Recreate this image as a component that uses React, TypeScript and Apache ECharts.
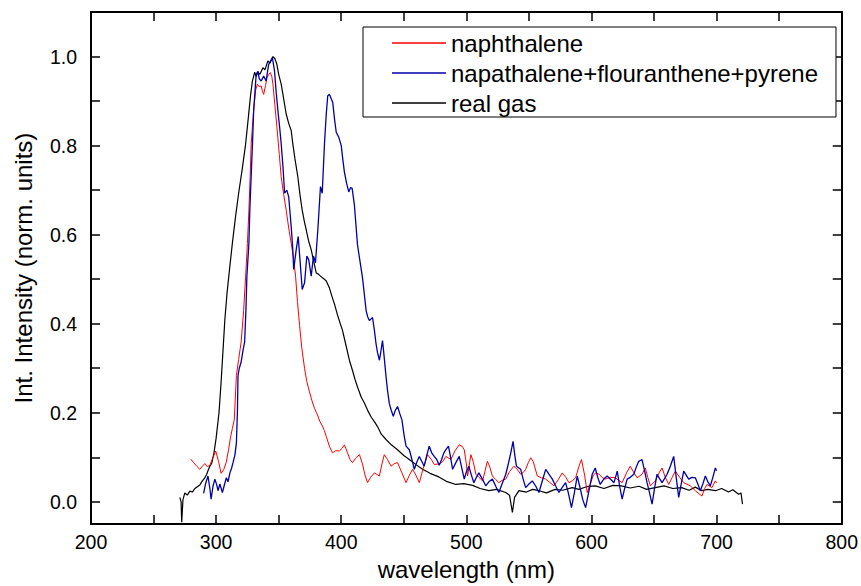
import React, { useEffect, useRef } from "react";
import * as echarts from "echarts";

const seriesNames = ["naphthalene", "napathalene+flouranthene+pyrene", "real gas"];
const seriesColors = ["#ff0000", "#0000a8", "#000000"];
const seriesWidths = [1, 1.3, 1.2];

const xLabelValues = [200, 300, 400, 500, 600, 700, 800];
const xTickValues = [200, 250, 300, 350, 400, 450, 500, 550, 600, 650, 700, 750, 800];
const yLabelValues = [0, 0.2, 0.4, 0.6, 0.8, 1.0];
const yTickValues = [0, 0.1, 0.2, 0.3, 0.4, 0.5, 0.6, 0.7, 0.8, 0.9, 1.0];

const naphthalene: number[][] = [
  [279.7, 0.096], [282, 0.088], [284.5, 0.080], [287, 0.073], [289, 0.080], [291, 0.086], [293, 0.079], [295, 0.082],
  [297.5, 0.100], [299.7, 0.114], [302, 0.090], [304, 0.064], [306, 0.072], [308, 0.088], [310, 0.118], [311.4, 0.143],
  [313, 0.165], [314.5, 0.184], [316.2, 0.284], [318, 0.320], [320, 0.359], [322, 0.430], [323.6, 0.507], [325, 0.580],
  [326.2, 0.655], [327.2, 0.730], [328, 0.804], [330, 0.880], [331.6, 0.925], [333, 0.938], [334.5, 0.932], [336, 0.934],
  [337, 0.922], [338, 0.915], [339.5, 0.935], [340.6, 0.952], [342, 0.960], [343.3, 0.964], [344.5, 0.955], [345.4, 0.938],
  [347, 0.890], [348.6, 0.841], [350.5, 0.780], [352, 0.730], [354, 0.690], [356, 0.655], [358, 0.615], [360, 0.581],
  [362, 0.545], [363.5, 0.507], [365, 0.450], [366.7, 0.396], [368.5, 0.345], [370.7, 0.299], [372.5, 0.270], [374.6, 0.247],
  [376.5, 0.228], [378.6, 0.210], [381, 0.195], [383, 0.180], [385, 0.170], [386.5, 0.160], [388, 0.147], [390.5, 0.125],
  [393, 0.110], [395.5, 0.115], [398.6, 0.114], [400.5, 0.120], [402.6, 0.128], [405, 0.110], [407, 0.095], [409, 0.088],
  [411.5, 0.098], [414.5, 0.106], [417, 0.085], [419, 0.060], [421, 0.043], [423.5, 0.055], [426.5, 0.065], [430.5, 0.058],
  [432.5, 0.085], [434.4, 0.106], [437, 0.095], [439.8, 0.080], [442.5, 0.086], [445, 0.088], [448.5, 0.065], [451.8, 0.043],
  [454.5, 0.060], [457, 0.073], [460, 0.058], [462.4, 0.043], [465.5, 0.075], [469, 0.106], [472, 0.095], [474.3, 0.084],
  [478.3, 0.085], [481, 0.090], [483.6, 0.102], [487.6, 0.095], [491, 0.115], [494.3, 0.128], [496.5, 0.125], [498.3, 0.117],
  [500, 0.085], [501, 0.058], [503.6, 0.106], [505.5, 0.090], [507.6, 0.062], [510, 0.055], [513, 0.047], [515, 0.070],
  [516.8, 0.091], [518.5, 0.080], [520.8, 0.058], [523.5, 0.050], [526, 0.043], [528.5, 0.048], [531.5, 0.051], [534.5, 0.068],
  [538, 0.080], [541, 0.072], [543.4, 0.062], [545.5, 0.066], [547.4, 0.073], [549.5, 0.088], [551.4, 0.099], [553.5, 0.090],
  [556.7, 0.058], [560, 0.054], [563.4, 0.051], [566.5, 0.044], [570, 0.036], [573.5, 0.050], [576.6, 0.065], [579.5, 0.055],
  [582, 0.043], [585, 0.048], [587.3, 0.054], [590, 0.080], [592, 0.095], [594.5, 0.060], [596.6, 0.021], [599, 0.040],
  [601.5, 0.060], [603.5, 0.065], [606, 0.062], [608.5, 0.055], [611, 0.051], [615, 0.055], [619, 0.054], [622, 0.048],
  [624.5, 0.043], [628, 0.065], [631, 0.080], [634, 0.065], [636.5, 0.054], [640.4, 0.062], [643, 0.076], [645, 0.055],
  [647, 0.036], [651, 0.047], [654, 0.065], [656.4, 0.076], [659, 0.055], [661.7, 0.039], [664.5, 0.055], [667, 0.069],
  [670.5, 0.055], [673.7, 0.043], [679, 0.036], [683, 0.025], [686, 0.018], [688.3, 0.013], [690.5, 0.030], [692.3, 0.039],
  [696.3, 0.032], [699, 0.047], [700, 0.042],
];

const mixture: number[][] = [
  [290, 0.019], [291.5, 0.040], [293.5, 0.058], [295, 0.030], [296, 0.006], [297.5, 0.035], [299, 0.051], [300.5, 0.038],
  [301.5, 0.025], [303, 0.040], [305, 0.021], [306.8, 0.040], [308.2, 0.054], [309.5, 0.045], [311, 0.065], [312.3, 0.075],
  [313.5, 0.088], [315, 0.105], [316.2, 0.132], [317, 0.200], [317.5, 0.284], [318.5, 0.300], [320, 0.314], [321.5, 0.340],
  [322.8, 0.359], [323.8, 0.430], [324.6, 0.507], [326.2, 0.581], [327, 0.660], [328, 0.730], [329, 0.800], [330, 0.878],
  [332, 0.960], [333.4, 0.967], [334.5, 0.950], [336, 0.945], [338, 0.956], [340, 0.945], [341, 0.965], [342, 0.982],
  [343.5, 0.990], [345, 0.997], [346.7, 0.967], [348, 0.920], [349.4, 0.878], [350.8, 0.840], [352, 0.804], [353.5, 0.750],
  [354.7, 0.693], [356.5, 0.700], [358, 0.685], [360, 0.618], [361.2, 0.570], [362, 0.522], [364, 0.566], [365.6, 0.596],
  [367.2, 0.537], [368.8, 0.477], [370.7, 0.492], [372.5, 0.552], [374, 0.544], [376, 0.507], [377.8, 0.552], [379.4, 0.537],
  [381.3, 0.611], [383.4, 0.708], [384.8, 0.693], [386.6, 0.804], [388, 0.870], [389.2, 0.912], [390.6, 0.915], [392, 0.905],
  [393.2, 0.897], [394.6, 0.860], [396, 0.830], [398, 0.819], [400, 0.800], [401.2, 0.770], [402.5, 0.741], [404.3, 0.715],
  [406, 0.696], [407.5, 0.706], [408.7, 0.704], [410.5, 0.667], [411.8, 0.620], [413, 0.577], [415, 0.540], [417, 0.503],
  [418.5, 0.465], [419.9, 0.429], [421.2, 0.415], [422.5, 0.407], [425, 0.414], [426.5, 0.385], [427.8, 0.355], [429, 0.335],
  [430.5, 0.318], [431.8, 0.340], [433, 0.362], [434.5, 0.320], [435.8, 0.281], [437, 0.250], [438.4, 0.221], [440, 0.205],
  [441.6, 0.192], [443.2, 0.205], [445, 0.214], [446.8, 0.198], [448.5, 0.184], [450.2, 0.150], [451.8, 0.125], [454.4, 0.117],
  [456.5, 0.095], [458.4, 0.073], [460.5, 0.090], [462.4, 0.102], [464.5, 0.090], [466.3, 0.080], [468.4, 0.105], [470.3, 0.125],
  [472.3, 0.110], [474.3, 0.102], [476.3, 0.095], [478.3, 0.082], [480.2, 0.095], [482, 0.110], [483.8, 0.118], [485.7, 0.125],
  [487.4, 0.100], [489, 0.073], [491.6, 0.088], [494.3, 0.102], [496.4, 0.075], [498.3, 0.051], [500.1, 0.068], [502, 0.080],
  [504, 0.060], [506, 0.043], [508, 0.055], [510, 0.065], [513, 0.050], [515.5, 0.036], [518, 0.045], [520.8, 0.051],
  [523.5, 0.035], [526, 0.021], [528.5, 0.040], [531.5, 0.062], [533.5, 0.085], [535.5, 0.110], [537.3, 0.136], [538.7, 0.105],
  [540, 0.080], [543.4, 0.073], [545.5, 0.050], [547.4, 0.032], [550, 0.040], [552.7, 0.047], [555.5, 0.035], [558, 0.021],
  [560.5, 0.045], [563.4, 0.073], [566, 0.062], [568.7, 0.051], [571.5, 0.035], [574, 0.021], [576.5, 0.032], [579.3, 0.043],
  [581.5, 0.020], [584, -0.013], [586.3, 0.020], [588.6, 0.058], [591, 0.030], [593, 0.005], [595.3, -0.013], [598, 0.025],
  [600.6, 0.062], [603, 0.076], [605, 0.055], [607, 0.039], [609.5, 0.050], [612.5, 0.058], [615.5, 0.050], [618, 0.043],
  [620.6, 0.069], [622.5, 0.035], [624.5, 0.006], [626.5, 0.030], [628.5, 0.051], [631, 0.055], [633.8, 0.062], [635.8, 0.078],
  [637.8, 0.091], [640.4, 0.095], [642.4, 0.070], [644.4, 0.043], [646.4, 0.020], [648.4, -0.005], [650.4, 0.030], [652.4, 0.062],
  [654.4, 0.052], [656.4, 0.043], [658.4, 0.052], [660.4, 0.062], [663, 0.080], [665.7, 0.102], [667.5, 0.060], [669.7, 0.010],
  [671.7, 0.040], [673.7, 0.069], [675.7, 0.060], [677.7, 0.051], [680.3, 0.055], [683, 0.054], [685, 0.040], [687, 0.025],
  [689, 0.040], [691, 0.058], [693, 0.045], [695, 0.036], [697, 0.055], [699, 0.076], [700, 0.070],
];

const realGas: number[][] = [
  [271, 0.010], [272, 0.000], [272.5, -0.046], [273.5, 0.005], [275, 0.020], [277, 0.015], [279, 0.024], [281, 0.022],
  [283, 0.030], [285, 0.034], [287, 0.038], [289, 0.047], [290.5, 0.052], [292.5, 0.062], [293.5, 0.070], [295, 0.080],
  [296.5, 0.087], [298.3, 0.110], [300, 0.143], [302.3, 0.200], [304, 0.270], [305.5, 0.340], [307, 0.410], [308.7, 0.468],
  [311, 0.530], [313, 0.581], [315.5, 0.640], [318, 0.693], [321, 0.750], [323.6, 0.804], [326, 0.870], [327.6, 0.915],
  [329, 0.945], [330.8, 0.965], [332, 0.955], [333.5, 0.965], [335, 0.960], [337.4, 0.975], [339, 0.970], [341.4, 0.990],
  [343, 0.985], [345.4, 1.000], [347, 0.995], [348.6, 0.982], [350, 0.960], [352, 0.938], [354, 0.905], [356, 0.871],
  [358, 0.850], [360, 0.834], [361.3, 0.804], [363, 0.770], [365.3, 0.730], [367, 0.690], [368.8, 0.655], [370.5, 0.630],
  [372, 0.611], [374, 0.585], [376, 0.566], [378, 0.540], [380, 0.514], [381.5, 0.512], [383, 0.508], [385, 0.503],
  [386.5, 0.500], [388, 0.496], [390.6, 0.480], [392.5, 0.462], [394.6, 0.444], [397, 0.420], [399, 0.402], [401, 0.385],
  [403.5, 0.355], [406.5, 0.318], [409, 0.295], [411, 0.275], [413, 0.258], [416, 0.235], [418.5, 0.222], [421, 0.206],
  [424, 0.190], [426.5, 0.180], [429, 0.169], [432, 0.152], [435.8, 0.140], [440, 0.128], [445, 0.117], [450, 0.104],
  [454.4, 0.095], [460, 0.083], [465, 0.073], [471, 0.064], [478, 0.056], [484, 0.046], [491.6, 0.039], [498, 0.041],
  [505, 0.037], [511, 0.030], [518, 0.025], [524, 0.028], [531.5, 0.021], [534.5, 0.015], [536.8, -0.024], [538.5, 0.010],
  [542, 0.025], [548, 0.022], [553, 0.028], [558, 0.025], [564, 0.020], [571, 0.028], [577, 0.026], [584.6, 0.032],
  [590, 0.028], [596, 0.034], [603, 0.036], [610, 0.030], [617, 0.037], [624, 0.036], [631, 0.031], [638, 0.035],
  [644, 0.028], [651, 0.032], [658, 0.036], [665, 0.030], [672, 0.032], [678, 0.026], [683, 0.033], [688, 0.025],
  [693, 0.028], [699, 0.025], [704, 0.030], [709.6, 0.022], [713, 0.027], [717.5, 0.017], [719.5, 0.020], [720.7, -0.005],
];

const FONT = '"Liberation Sans", Arial, sans-serif';

export default function App() {
  const ref = useRef<HTMLDivElement>(null);
  useEffect(() => {
    if (!ref.current) return;
    document.body.style.margin = "0";
    const chart = echarts.init(ref.current, undefined, { renderer: "svg" });
    const axisLine = { show: true, onZero: false, lineStyle: { color: "#000", width: 2 } };
    const tickStyle = { color: "#000", width: 1.5 };
    const xBase = {
      type: "value" as const,
      min: 200,
      max: 800,
      splitLine: { show: false },
      axisLine,
    };
    const yBase = {
      type: "value" as const,
      min: -0.05,
      max: 1.1,
      splitLine: { show: false },
      axisLine,
    };
    const dataSets = [naphthalene, mixture, realGas];
    const drawOrder = [2, 0, 1];
    chart.setOption({
      animation: false,
      backgroundColor: "#fff",
      textStyle: { fontFamily: FONT },
      grid: { left: 91, right: 18, top: 12, bottom: 57, containLabel: false },
      legend: {
        data: seriesNames.map((n) => ({ name: n, icon: "rect" })),
        orient: "vertical",
        left: 363,
        top: 27,
        itemWidth: 54,
        itemHeight: 1.5,
        itemGap: 6,
        padding: [4, 18, 2, 29],
        borderColor: "#000",
        borderWidth: 1,
        backgroundColor: "#fff",
        borderRadius: 0,
        textStyle: { fontSize: 24, color: "#000", fontFamily: FONT },
        z: 10,
      },
      xAxis: [
        {
          ...xBase,
          position: "bottom",
          name: "wavelength (nm)",
          nameLocation: "middle",
          nameGap: 31,
          nameTextStyle: { fontSize: 24, color: "#000", fontFamily: FONT },
          axisTick: { show: true, inside: true, length: 9, lineStyle: tickStyle, customValues: xTickValues },
          axisLabel: { show: true, color: "#000", fontSize: 19.5, margin: 8, fontFamily: FONT, customValues: xLabelValues },
        },
        {
          ...xBase,
          position: "top",
          axisTick: { show: true, inside: true, length: 9, lineStyle: tickStyle, customValues: xTickValues },
          axisLabel: { show: false },
        },
      ],
      yAxis: [
        {
          ...yBase,
          position: "left",
          name: "Int. Intensity (norm. units)",
          nameLocation: "middle",
          nameGap: 56,
          nameTextStyle: { fontSize: 24, color: "#000", fontFamily: FONT },
          axisTick: { show: true, inside: true, length: 9, lineStyle: tickStyle, customValues: yTickValues },
          axisLabel: {
            show: true,
            color: "#000",
            fontSize: 19.5,
            margin: 14,
            fontFamily: FONT,
            customValues: yLabelValues,
            formatter: (v: number) => v.toFixed(1),
          },
        },
        {
          ...yBase,
          position: "right",
          axisTick: { show: true, inside: true, length: 9, lineStyle: tickStyle, customValues: yTickValues },
          axisLabel: { show: false },
        },
      ],
      series: drawOrder.map((i) => ({
        type: "line",
        name: seriesNames[i],
        data: dataSets[i],
        xAxisIndex: 0,
        yAxisIndex: 0,
        symbol: "none",
        showSymbol: false,
        smooth: false,
        color: seriesColors[i],
        lineStyle: { color: seriesColors[i], width: seriesWidths[i] },
        itemStyle: { color: seriesColors[i] },
      })),
    });
    return () => chart.dispose();
  }, []);
  return <div ref={ref} style={{ width: 861, height: 586 }} />;
}
